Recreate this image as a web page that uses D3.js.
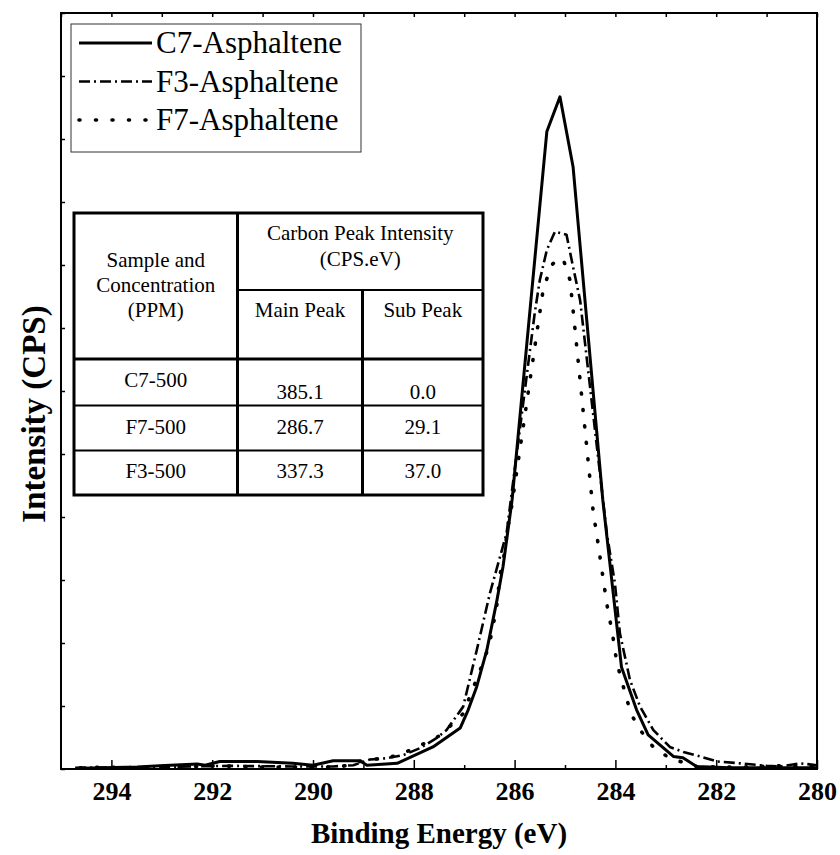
<!DOCTYPE html>
<html>
<head>
<meta charset="utf-8">
<script src="https://cdn.jsdelivr.net/npm/d3@7"></script>
<style>
  body { margin: 0; background: #fff; }
  svg, svg text { font-family: "Liberation Serif", "Times New Roman", Times, "DejaVu Serif", serif; }
</style>
</head>
<body>
<svg id="chart" width="840" height="855"></svg>
<script>
// C7-Asphaltene (solid)
const c7Energy = [294.62, 293.49, 293.04, 292.30, 292.14, 291.85, 291.11, 290.40, 290.00, 289.60, 289.07, 288.93, 288.33,
  287.62, 287.08, 286.92, 286.75, 286.55, 286.35, 286.23, 286.05, 285.36, 285.10, 284.84, 284.25, 283.88, 283.58,
  283.35, 282.85, 282.66, 282.39, 281.73, 280.73, 280.00];
const c7Intensity = [0.01, 0.03, 0.05, 0.08, 0.06, 0.12, 0.12, 0.09, 0.06, 0.13, 0.13, 0.06, 0.09,
  0.35, 0.65, 0.94, 1.31, 1.89, 2.68, 3.21, 4.27, 10.12, 10.67, 9.56, 4.27, 1.62, 0.94,
  0.54, 0.20, 0.18, 0.04, 0.02, 0.02, 0.02];

// F3-Asphaltene (dash-dot)
const f3Energy = [294.72, 293.23, 291.65, 290.40, 289.60, 289.20, 288.87, 288.54, 288.21, 287.88, 287.55, 287.35, 287.02,
  286.75, 286.49, 286.16, 285.60, 285.50, 285.36, 285.20, 284.97, 284.84, 284.70, 284.64, 284.17, 284.01, 283.91,
  283.71, 283.51, 283.25, 282.92, 282.65, 282.32, 281.99, 281.53, 281.00, 280.73, 280.34, 280.00];
const f3Intensity = [0.02, 0.03, 0.05, 0.04, 0.04, 0.06, 0.15, 0.17, 0.22, 0.33, 0.49, 0.62, 0.99,
  1.89, 2.79, 3.74, 7.24, 7.76, 8.24, 8.53, 8.48, 7.97, 7.44, 7.02, 3.74, 2.95, 2.15,
  1.41, 0.99, 0.62, 0.35, 0.27, 0.20, 0.12, 0.09, 0.05, 0.04, 0.09, 0.06];

// F7-Asphaltene (dotted)
const f7Energy = [294.62, 294.23, 293.43, 292.24, 291.85, 291.05, 290.26, 289.46, 288.93, 288.54, 288.21, 287.88, 287.51,
  287.21, 287.02, 286.59, 286.49, 286.36, 286.29, 286.22, 286.12, 286.06, 285.43, 285.26, 285.14, 285.03, 284.90,
  284.84, 284.44, 284.34, 284.24, 284.14, 284.07, 283.97, 283.87, 283.78, 283.68, 283.51, 283.25, 282.92, 282.39,
  281.53, 280.73, 280.00];
const f7Intensity = [0.02, 0.03, 0.02, 0.04, 0.05, 0.03, 0.03, 0.03, 0.15, 0.17, 0.25, 0.37, 0.52,
  0.73, 0.88, 1.76, 2.02, 2.55, 3.08, 3.34, 3.90, 4.16, 7.63, 8.00, 8.11, 8.08, 7.76,
  7.29, 4.08, 3.56, 3.00, 2.47, 2.21, 1.68, 1.39, 1.12, 0.86, 0.62, 0.35, 0.17, 0.04,
  0.03, 0.05, 0.04];

const seriesNames = ["C7-Asphaltene", "F3-Asphaltene", "F7-Asphaltene"];
const xTickLabels = [294, 292, 290, 288, 286, 284, 282, 280];
const xMinorTicks = [293, 291, 289, 287, 285, 283, 281];

// inset table
const tableSamples = ["C7-500", "F7-500", "F3-500"];
const tableMainPeak = [385.1, 286.7, 337.3];
const tableSubPeak = [0.0, 29.1, 37.0];

const serif = "'Liberation Serif', 'Times New Roman', Times, 'DejaVu Serif', serif";

const svg = d3.select("#chart").attr("font-family", serif);
const margin = { top: 13, right: 23, bottom: 86, left: 61 };
const width = 840, height = 855;

const x = d3.scaleLinear().domain([295, 280]).range([margin.left, width - margin.right]);
const y = d3.scaleLinear().domain([0, 12]).range([height - margin.bottom, margin.top]);

const series = [
  { name: seriesNames[0], data: d3.zip(c7Energy, c7Intensity), dash: null, w: 3, cap: "butt" },
  { name: seriesNames[1], data: d3.zip(f3Energy, f3Intensity), dash: "11,4,2,4", w: 2.6, cap: "butt" },
  { name: seriesNames[2], data: d3.zip(f7Energy, f7Intensity), dash: "1,15.5", w: 3.6, cap: "round" }
];

// curves
const line = d3.line().x((d) => x(d[0])).y((d) => y(d[1]));
svg.append("g")
  .selectAll("path")
  .data(series)
  .join("path")
  .attr("d", (d) => line(d.data))
  .attr("fill", "none")
  .attr("stroke", "#000")
  .attr("stroke-width", (d) => d.w)
  .attr("stroke-linecap", (d) => d.cap)
  .attr("stroke-linejoin", "round")
  .attr("stroke-dasharray", (d) => d.dash);

// bottom axis, ticks point inward
const xAxis = svg.append("g")
  .attr("transform", `translate(0, ${y(0)})`)
  .call(d3.axisBottom(x).tickValues(xTickLabels).tickSizeInner(-9).tickSizeOuter(0).tickPadding(13).tickFormat(d3.format("d")));
xAxis.attr("font-family", serif).attr("font-size", null);
xAxis.selectAll("text")
  .attr("font-family", serif)
  .style("font-size", "26px")
  .style("font-weight", "bold");

svg.append("g")
  .attr("transform", `translate(0, ${y(0)})`)
  .call(d3.axisBottom(x).tickValues(xMinorTicks).tickSizeInner(-4).tickSizeOuter(0).tickFormat(""));

// top ticks
svg.append("g")
  .attr("transform", `translate(0, ${y(12)})`)
  .call(d3.axisTop(x).ticks(15).tickSizeInner(-4).tickSizeOuter(0).tickFormat(""));

// left ticks, no labels
svg.append("g")
  .attr("transform", `translate(${x(295)}, 0)`)
  .call(d3.axisLeft(y).ticks(12).tickSizeInner(-4).tickSizeOuter(0).tickFormat(""));

svg.selectAll(".domain").remove();
svg.selectAll(".tick line").attr("stroke-width", 1.5);

// frame
svg.append("rect")
  .attr("x", x(295))
  .attr("y", y(12))
  .attr("width", x(280) - x(295))
  .attr("height", y(0) - y(12))
  .attr("fill", "none")
  .attr("stroke", "#000")
  .attr("stroke-width", 2);

// axis titles
svg.append("text")
  .attr("x", (x(295) + x(280)) / 2)
  .attr("y", 843)
  .attr("text-anchor", "middle")
  .attr("font-family", serif)
  .style("font-size", "29px")
  .style("font-weight", "bold")
  .text("Binding Energy (eV)");

svg.append("text")
  .attr("transform", `translate(45, ${(y(0) + y(12)) / 2 + 23}) rotate(-90)`)
  .attr("text-anchor", "middle")
  .attr("font-family", serif)
  .style("font-size", "33px")
  .style("font-weight", "bold")
  .text("Intensity (CPS)");

// legend
const legend = svg.append("g").attr("font-family", serif);
legend.append("rect")
  .attr("x", 71)
  .attr("y", 24)
  .attr("width", 290)
  .attr("height", 128)
  .attr("fill", "#fff")
  .attr("stroke", "#333")
  .attr("stroke-width", 1);

series.forEach((s, i) => {
  const ly = 43 + i * 38.5;
  legend.append("line")
    .attr("x1", 79)
    .attr("x2", 152)
    .attr("y1", ly)
    .attr("y2", ly)
    .attr("stroke", "#000")
    .attr("stroke-width", s.w)
    .attr("stroke-linecap", s.cap)
    .attr("stroke-dasharray", s.dash);
  legend.append("text")
    .attr("x", 156)
    .attr("y", ly)
    .attr("dy", "0.33em")
    .style("font-size", "31px")
    .text(s.name);
});

// table
const table = svg.append("g").attr("font-family", serif).style("font-size", "21px");
const tL = 74, tR = 483, tT = 213, tB = 495;
const c1 = 237.5, c2 = 362.5;
const hHead = 290, hBody = 359, rowLines = [405.5, 450.5];

table.append("rect")
  .attr("x", tL).attr("y", tT)
  .attr("width", tR - tL).attr("height", tB - tT)
  .attr("fill", "#fff").attr("stroke", "#000").attr("stroke-width", 3);

const tLines = [
  [c1, tT, c1, tB, 3],
  [c2, hHead, c2, tB, 3],
  [c1, hHead, tR, hHead, 2],
  [tL, hBody, tR, hBody, 3],
  [tL, rowLines[0], tR, rowLines[0], 2],
  [tL, rowLines[1], tR, rowLines[1], 2]
];
table.selectAll("line")
  .data(tLines)
  .join("line")
  .attr("x1", (d) => d[0]).attr("y1", (d) => d[1])
  .attr("x2", (d) => d[2]).attr("y2", (d) => d[3])
  .attr("stroke", "#000")
  .attr("stroke-width", (d) => d[4]);

const colX = [(tL + c1) / 2, (c1 + c2) / 2, (c2 + tR) / 2];
const headTexts = [
  [colX[0], 260, "Sample and"],
  [colX[0], 285, "Concentration"],
  [colX[0], 310, "(PPM)"],
  [(c1 + tR) / 2, 233, "Carbon Peak Intensity"],
  [(c1 + tR) / 2, 259, "(CPS.eV)"],
  [colX[1], 310, "Main Peak"],
  [colX[2], 310, "Sub Peak"]
];
table.selectAll(".head")
  .data(headTexts)
  .join("text")
  .attr("class", "head")
  .attr("x", (d) => d[0])
  .attr("y", (d) => d[1])
  .attr("dy", "0.35em")
  .attr("text-anchor", "middle")
  .text((d) => d[2]);

// first row numbers sit a bit low in the original
const rowY = [380, 427, 471];
const numY = [392, 427, 471];
tableSamples.forEach((s, i) => {
  const cells = [[colX[0], rowY[i], s], [colX[1], numY[i], tableMainPeak[i].toFixed(1)], [colX[2], numY[i], tableSubPeak[i].toFixed(1)]];
  cells.forEach((c) => {
    table.append("text")
      .attr("x", c[0])
      .attr("y", c[1])
      .attr("dy", "0.35em")
      .attr("text-anchor", "middle")
      .text(c[2]);
  });
});
</script>
</body>
</html>
